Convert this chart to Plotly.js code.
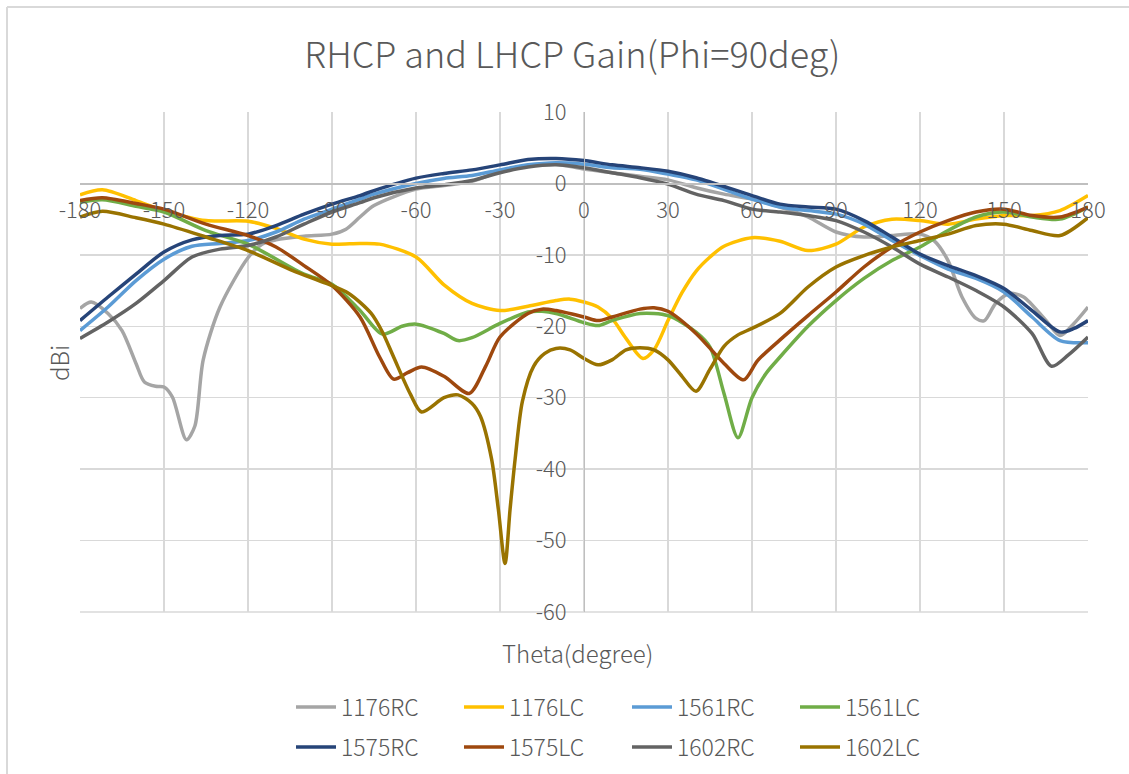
<!DOCTYPE html>
<html>
<head>
<meta charset="utf-8">
<script src="https://cdn.plot.ly/plotly-3.0.1.min.js"></script>
<style>html,body{margin:0;padding:0;background:#fff;}#chart{width:1129px;height:774px;}</style>
</head>
<body>
<div id="chart"></div>
<script>
// ---- data (theta in degrees, gain in dBi) ----
const seriesNames = ["1176RC","1176LC","1561RC","1561LC","1575RC","1575LC","1602RC","1602LC"];
const seriesColors = ["#A5A5A5","#FFC000","#5B9BD5","#70AD47","#264478","#9E480E","#636363","#997300"];

const theta1176RC = [-180,-176,-170,-165,-160,-157,-153,-150,-147,-142,-139,-136,-130,-120,-115,-110,-100,-90,-85,-80,-75,-60,-50,-40,-30,-20,-10,0,10,20,30,40,50,60,70,80,90,100,110,120,125,130,135,140,143,147,152,157,165,170,175,180];
const gain1176RC  = [-17.5,-16.6,-18.2,-20.6,-25.2,-27.8,-28.4,-28.5,-29.9,-35.9,-34,-24.7,-17.3,-10.4,-8.5,-7.9,-7.4,-7.1,-6.4,-4.7,-3.1,-0.8,-0.3,0.3,1.7,2.5,2.7,2.0,1.5,1.0,0.5,-0.6,-1.5,-2.2,-3.3,-4.7,-6.8,-7.5,-7.3,-7.1,-8,-10.8,-15.9,-18.9,-19.2,-16.8,-15.4,-15.9,-19.2,-21.3,-19.6,-17.3];

const theta1176LC = [-180,-172,-160,-150,-135,-120,-110,-100,-90,-80,-73,-60,-50,-40,-30,-20,-10,-5,0,5,10,15,21,25,30,35,40,45,50,60,70,80,90,100,110,120,130,140,150,160,170,180];
const gain1176LC  = [-1.6,-0.9,-2.4,-3.8,-5.2,-5.3,-6.3,-7.8,-8.5,-8.4,-8.5,-10.3,-14.2,-16.8,-17.8,-17.2,-16.4,-16.2,-16.6,-17.3,-18.9,-21.7,-24.5,-23.3,-19.2,-15.3,-12.3,-10.3,-8.8,-7.6,-8.1,-9.4,-8.5,-6.1,-5.0,-5.2,-5.7,-5.0,-4.5,-4.5,-3.8,-1.7];

const theta1561RC = [-180,-170,-160,-150,-140,-130,-120,-110,-100,-90,-80,-75,-60,-50,-40,-30,-20,-10,0,10,20,30,40,60,70,80,90,100,110,120,130,140,150,160,170,180];
const gain1561RC  = [-20.6,-17.3,-13.6,-10.6,-8.8,-8.4,-8.0,-6.8,-5.0,-3.6,-2.2,-1.5,0,0.7,1.1,1.9,2.6,2.9,2.7,2.2,2.0,1.3,0.5,-2.2,-3.3,-3.8,-4.3,-5.7,-8.0,-10.1,-12.0,-13.3,-15.2,-18.7,-22.0,-22.3];

const theta1561LC = [-180,-172,-160,-150,-135,-120,-100,-90,-80,-72,-65,-60,-50,-45,-40,-30,-20,-15,-10,0,5,10,20,30,40,45,50,55,60,65,70,80,90,100,110,120,130,140,150,160,170,180];
const gain1561LC  = [-2.65,-2.3,-3.2,-4.0,-6.6,-8.5,-12.7,-14.1,-17.8,-21.1,-20.0,-19.7,-21.0,-22.0,-21.6,-19.6,-18.0,-17.9,-18.2,-19.5,-19.9,-19.2,-18.2,-18.5,-20.8,-22.9,-29.4,-35.6,-30.0,-26.6,-24.3,-20.0,-16.4,-13.3,-10.8,-8.9,-6.6,-4.7,-4.0,-4.7,-5.0,-3.3];

const theta1575RC = [-180,-170,-160,-150,-140,-130,-120,-110,-100,-90,-80,-75,-60,-50,-40,-30,-20,-10,0,10,20,30,40,60,70,80,90,100,110,120,130,140,150,160,170,175,180];
const gain1575RC  = [-19.2,-15.9,-12.7,-9.6,-7.9,-7.3,-7.1,-5.9,-4.3,-2.9,-1.7,-1.0,0.74,1.4,1.9,2.6,3.35,3.5,3.2,2.6,2.2,1.7,0.8,-1.7,-2.9,-3.3,-3.6,-5.2,-7.5,-9.9,-11.5,-12.9,-14.7,-17.8,-20.8,-20.3,-19.2];

const theta1575LC = [-180,-172,-160,-150,-135,-120,-110,-100,-90,-80,-73,-68,-63,-58,-50,-41,-35,-30,-20,-15,-10,0,5,10,20,25,30,40,50,57,62,70,80,90,100,110,120,130,140,150,160,170,180];
const gain1575LC  = [-2.4,-2.0,-2.8,-3.6,-5.7,-7.3,-8.9,-11.5,-14.3,-18.7,-24.3,-27.4,-26.5,-25.7,-27.0,-29.4,-25.5,-21.5,-18.2,-17.6,-17.8,-18.7,-19.2,-18.7,-17.6,-17.4,-17.9,-21.0,-25.2,-27.5,-24.8,-21.9,-18.5,-15.2,-11.7,-8.9,-6.8,-5.2,-4.0,-3.6,-4.5,-4.7,-3.3];

const theta1602RC = [-180,-170,-160,-150,-140,-130,-120,-110,-100,-90,-80,-75,-60,-50,-40,-30,-20,-10,0,10,20,30,40,50,60,70,80,90,100,110,120,130,140,150,160,167,173,180];
const gain1602RC  = [-21.7,-19.4,-16.8,-13.6,-10.3,-9.2,-8.7,-7.5,-5.7,-4.0,-2.7,-2.0,-0.65,-0.2,0.4,1.5,2.3,2.6,2.2,1.5,0.8,-0.1,-1.5,-2.4,-3.6,-4.0,-4.5,-5.2,-6.8,-8.9,-11.3,-13.1,-15.0,-17.3,-21.0,-25.6,-24.0,-21.5];

const theta1602LC = [-180,-172,-160,-150,-135,-120,-104,-92,-84,-76,-72,-68,-62,-58,-50,-45,-40,-37,-33,-30.6,-28.2,-26.4,-24.6,-22,-18,-14,-10,-5,0,5,10,15,20,25,30,35,40,45,50,55,60,70,80,90,100,110,120,130,140,150,160,170,180];
const gain1602LC  = [-4.7,-3.9,-4.8,-5.7,-7.5,-9.4,-12.2,-14.0,-15.4,-18.2,-20.8,-24.3,-29.5,-32.0,-30.0,-29.6,-30.8,-32.6,-38.6,-45.6,-53.2,-45.6,-38.6,-30.5,-25.6,-23.8,-23.1,-23.3,-24.5,-25.4,-24.7,-23.3,-23.0,-23.3,-24.7,-27.0,-29.1,-26.0,-22.8,-21.2,-20.3,-18.2,-14.5,-11.7,-10.1,-8.9,-8.0,-7.1,-5.9,-5.7,-6.6,-7.3,-4.8];

const thetas = [theta1176RC,theta1176LC,theta1561RC,theta1561LC,theta1575RC,theta1575LC,theta1602RC,theta1602LC];
const gains  = [gain1176RC,gain1176LC,gain1561RC,gain1561LC,gain1575RC,gain1575LC,gain1602RC,gain1602LC];

const xTicks = [-180,-150,-120,-90,-60,-30,0,30,60,90,120,150,180];
const yTicks = [-60,-50,-40,-30,-20,-10,0,10];

const FONT = '"Noto Sans CJK SC", "Noto Sans", sans-serif';
const TXT = '#595959';

const traces = seriesNames.map((n,i)=>({
  type:'scatter', mode:'lines', name:n,
  x: thetas[i], y: gains[i],
  line:{color:seriesColors[i], width:3.5, shape:'spline', smoothing:0.8},
  legend: i<4 ? 'legend' : 'legend2',
  hoverinfo:'x+y+name'
}));

const legendCommon = {
  orientation:'h', xref:'paper', yref:'paper', xanchor:'center', yanchor:'middle',
  entrywidth:113, entrywidthmode:'pixels', bgcolor:'rgba(0,0,0,0)',
  font:{family:FONT, size:23, color:TXT, weight:300}, itemwidth:40, tracegroupgap:0
};

const layout = {
  width:1129, height:774,
  margin:{l:80, r:41, t:112, b:162, pad:0, autoexpand:false},
  paper_bgcolor:'#ffffff', plot_bgcolor:'#ffffff',
  font:{family:FONT, color:TXT, size:20, weight:300},
  title:{text:'RHCP and LHCP Gain(Phi=90deg)', xref:'container', yref:'container',
         x:0.507, y:1-55/774, xanchor:'center', yanchor:'middle',
         font:{family:FONT, size:36, color:TXT, weight:300}},
  xaxis:{range:[-180,180], tickvals:xTicks, ticktext:xTicks.map(String),
         anchor:'free', position:60/70, showgrid:true, gridcolor:'#d9d9d9', gridwidth:1.3,
         showline:true, linecolor:'#bfbfbf', linewidth:1.3, zeroline:false,
         ticks:'', ticklabelstandoff:7, tickfont:{family:FONT, size:22, color:TXT, weight:300}, fixedrange:true},
  yaxis:{range:[-60,10], tickvals:yTicks, ticktext:yTicks.map(String),
         anchor:'free', position:0.5, showgrid:true, gridcolor:'#d9d9d9', gridwidth:1.3,
         showline:true, linecolor:'#bfbfbf', linewidth:1.3, zeroline:false,
         ticks:'', ticklabelstandoff:13, tickfont:{family:FONT, size:22, color:TXT, weight:300}, fixedrange:true},
  legend:Object.assign({x:(627-80)/1008, y:(612-707)/500}, legendCommon),
  legend2:Object.assign({x:(627-80)/1008, y:(612-747)/500}, legendCommon),
  annotations:[
    {text:'Theta(degree)', xref:'paper', yref:'paper', x:(577-80)/1008, y:(612-652)/500,
     xanchor:'center', yanchor:'middle', showarrow:false, font:{family:FONT, size:24, color:TXT, weight:300}},
    {text:'dBi', xref:'paper', yref:'paper', x:(58-80)/1008, y:(612-363)/500, textangle:-90,
     xanchor:'center', yanchor:'middle', showarrow:false, font:{family:FONT, size:24, color:TXT, weight:300}}
  ],
  shapes:[
    {type:'line', xref:'paper', yref:'paper', x0:0, x1:1, y0:0, y1:0, layer:'below', line:{color:'#d9d9d9', width:1.3}},
    {type:'line', xref:'paper', yref:'paper', x0:(7-80)/1008, x1:(1135-80)/1008, y0:(612-7)/500, y1:(612-7)/500, line:{color:'#d9d9d9', width:2}},
    {type:'line', xref:'paper', yref:'paper', x0:(7-80)/1008, x1:(7-80)/1008, y0:(612-7)/500, y1:(612-780)/500, line:{color:'#d9d9d9', width:2}}
  ],
  showlegend:true
};

Plotly.newPlot('chart', traces, layout, {displayModeBar:false, staticPlot:true});
</script>
</body>
</html>
